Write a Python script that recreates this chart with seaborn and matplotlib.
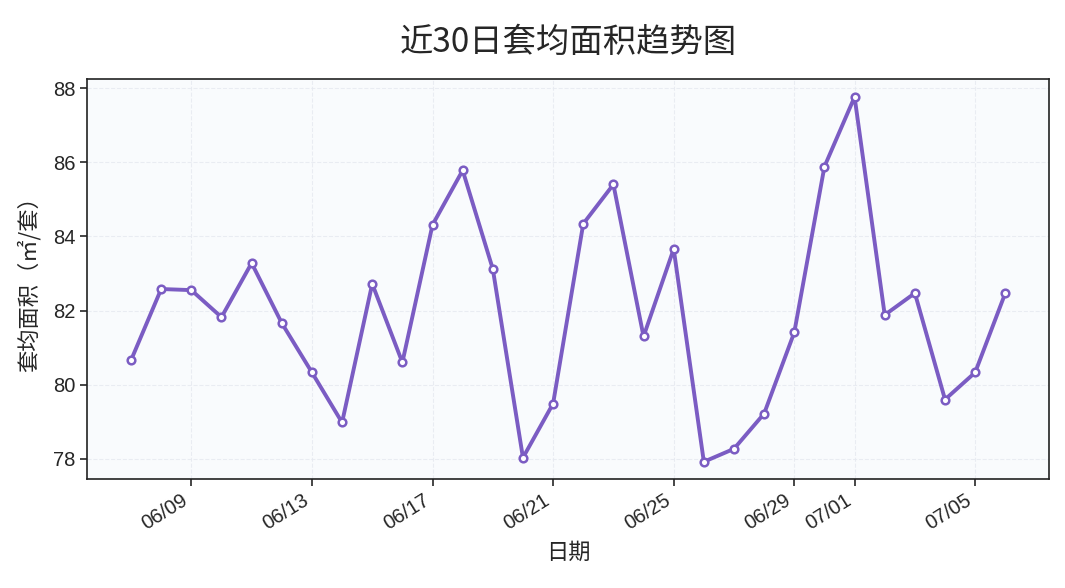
import pandas as pd
import numpy as np
import matplotlib
matplotlib.use("Agg")
import matplotlib.pyplot as plt
import matplotlib.dates as mdates
import seaborn as sns

# 近30日套均面积（㎡/套）
dates = pd.date_range("2024-06-07", "2024-07-06", freq="D")
avg_area = [80.66, 82.58, 82.55, 81.82, 83.28, 81.66, 80.33, 78.98, 82.72, 80.60,
            84.31, 85.78, 83.12, 78.03, 79.49, 84.34, 85.40, 81.30, 83.66, 77.92,
            78.27, 79.22, 81.41, 85.88, 87.76, 81.88, 82.47, 79.60, 80.33, 82.47]

df = pd.DataFrame({"date": dates, "area": avg_area})

sns.set_style("ticks")
plt.rcParams["font.family"] = ["Liberation Sans", "Noto Sans CJK SC", "DejaVu Sans"]
plt.rcParams["axes.unicode_minus"] = False
cjk = ["Noto Sans CJK SC", "DejaVu Sans"]

fig, ax = plt.subplots(figsize=(10.65, 5.88), dpi=100)
ax.set_facecolor("#f9fbfd")

sns.lineplot(data=df, x="date", y="area", ax=ax, color="#7b5cc3", linewidth=2.8,
             marker="o", markersize=5.5, markerfacecolor="white",
             markeredgecolor="#7b5cc3", markeredgewidth=1.8)

ax.grid(True, linestyle="--", color="#e6e9f0", linewidth=0.8, alpha=0.8)
ax.set_axisbelow(True)
ax.set_yticks([78, 80, 82, 84, 86, 88])
ax.set_ylim(77.45, 88.25)
ax.xaxis.set_major_formatter(mdates.DateFormatter("%m/%d"))

for side in ax.spines.values():
    side.set_linewidth(1.2)
    side.set_color("#222222")
ax.tick_params(labelsize=14.5, width=1.2, length=5)

ax.set_title("近30日套均面积趋势图", fontsize=24, pad=19, family=cjk)
ax.set_xlabel("日期", fontsize=16, family=cjk, labelpad=5)
ax.set_ylabel("套均面积（㎡/套）", fontsize=16, family=cjk, labelpad=9)

fig.autofmt_xdate(rotation=32, ha="right")
fig.subplots_adjust(left=0.082, right=0.985, top=0.866, bottom=0.185)
fig.savefig("out.png", dpi=100)
